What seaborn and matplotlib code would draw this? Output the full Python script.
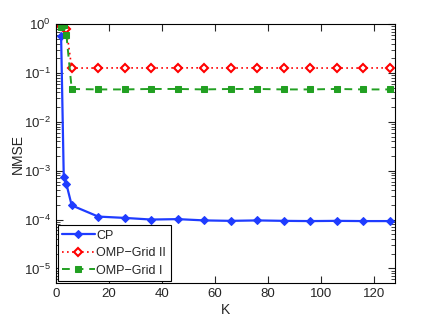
import numpy as np
import pandas as pd
import matplotlib
matplotlib.use("Agg")
import matplotlib.pyplot as plt
import seaborn as sns

K = [2, 3, 4, 6, 16, 26, 36, 46, 56, 66, 76, 86, 96, 106, 116, 126]
cp = [0.57, 7.4e-4, 5.3e-4, 1.95e-4, 1.15e-4, 1.08e-4, 1.0e-4, 1.02e-4,
      9.6e-5, 9.4e-5, 9.6e-5, 9.4e-5, 9.3e-5, 9.4e-5, 9.3e-5, 9.3e-5]
omp_grid2 = [0.92, 0.85, 0.78, 0.126, 0.126, 0.127, 0.126, 0.127,
             0.127, 0.126, 0.127, 0.126, 0.126, 0.126, 0.126, 0.127]
omp_grid1 = [0.88, 0.95, 0.6, 0.047, 0.046, 0.046, 0.047, 0.047,
             0.046, 0.047, 0.047, 0.046, 0.046, 0.047, 0.046, 0.046]
x_ticks = [0, 20, 40, 60, 80, 100, 120]

sns.set_style("ticks")
plt.rcParams['font.family'] = ['Liberation Sans', 'DejaVu Sans']
plt.rcParams['xtick.direction'] = 'in'
plt.rcParams['ytick.direction'] = 'in'

fig = plt.figure(figsize=(4.36, 3.21), dpi=100)
ax = fig.add_axes([0.128, 0.118, 0.778, 0.807])

df = pd.DataFrame({"K": K, "CP": cp, "OMP-Grid II": omp_grid2, "OMP-Grid I": omp_grid1})

sns.lineplot(data=df, x="K", y="CP", ax=ax, color="#1f3cff", lw=1.6,
             marker="D", markersize=4, markeredgecolor="#1f3cff", label="CP")
sns.lineplot(data=df, x="K", y="OMP-Grid II", ax=ax, color="#ff0000", lw=1.2,
             linestyle=(0, (1, 2)), marker="D", markersize=4,
             markerfacecolor="white", markeredgecolor="#ff0000", markeredgewidth=1.5,
             label="OMP\u2212Grid II")
sns.lineplot(data=df, x="K", y="OMP-Grid I", ax=ax, color="#22a022", lw=1.4,
             linestyle=(0, (4, 3)), marker="s", markersize=4,
             markerfacecolor="#22a022", markeredgecolor="#22a022",
             label="OMP\u2212Grid I")

ax.set_yscale("log")
ax.set_ylim(5e-6, 1)
ax.set_xlim(0, 128)
ax.set_xticks(x_ticks)
ax.set_xlabel("K", fontsize=10, labelpad=2)
ax.set_ylabel("NMSE", fontsize=10, labelpad=-1)
ax.tick_params(axis="both", which="both", top=True, right=True, labelsize=9.5)
ax.tick_params(which="major", length=5)
ax.tick_params(which="minor", length=3)
for s in ax.spines.values():
    s.set_color("black")
    s.set_linewidth(0.8)

leg = ax.legend(loc="lower left", fontsize=9, handlelength=2.6, borderaxespad=0.15,
                fancybox=False, framealpha=1, edgecolor="black",
                borderpad=0.35, labelspacing=0.45, handletextpad=0.15)
leg.get_frame().set_linewidth(0.8)

fig.savefig("out.png", dpi=100)
